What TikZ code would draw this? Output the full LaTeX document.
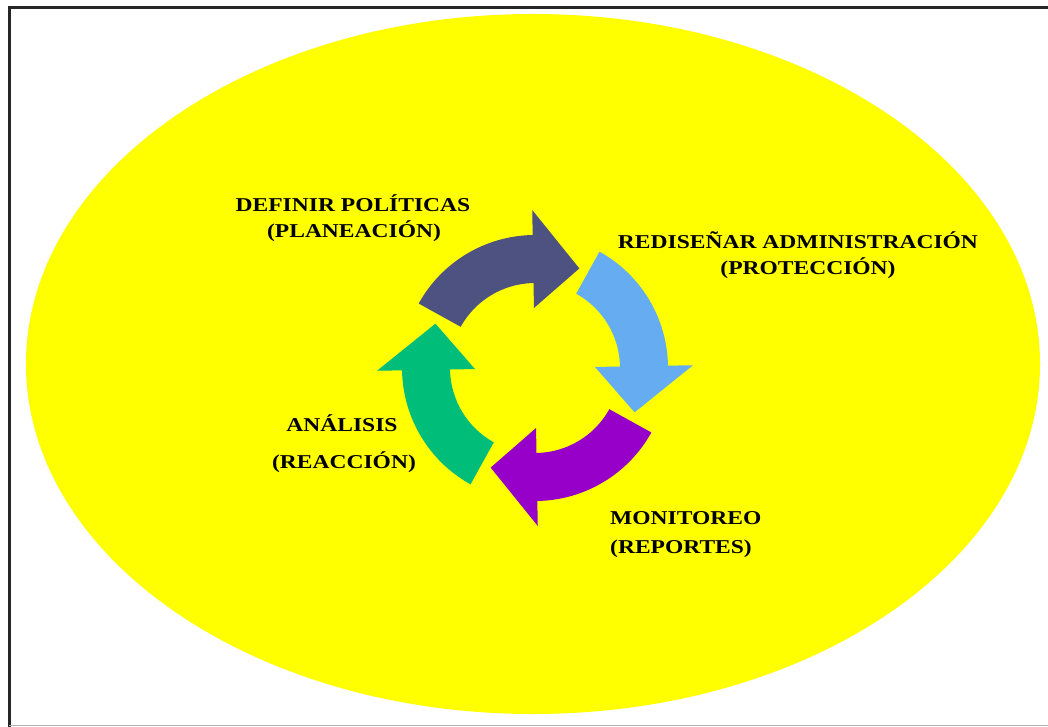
\documentclass[tikz,border=0pt]{standalone}
\usepackage{fontspec}
\usepackage{graphicx}
\setmainfont{Liberation Serif}
\usetikzlibrary{calc}
\definecolor{navyarrow}{RGB}{78,82,128}
\definecolor{bluearrow}{RGB}{102,172,240}
\definecolor{purplearrow}{RGB}{150,0,200}
\definecolor{greenarrow}{RGB}{0,190,122}
\definecolor{bgyellow}{RGB}{255,255,0}
\newcommand\sx[1]{\scalebox{1.2}[1]{#1}}
\newcommand\cyclearrow[2]{%
  \fill[#2] ($(C)+(#1+60:133)$) arc[start angle=#1+60, end angle=#1, radius=133]
    -- ($(C)+(#1:158)$) -- ($(C)+(#1-25:109)$) -- ($(C)+(#1:60)$)
    -- ($(C)+(#1:85)$) arc[start angle=#1, end angle=#1+60, radius=85] -- cycle;}
\tikzset{lbl/.style={font=\fontsize{19.6}{24}\selectfont\bfseries, inner sep=0pt, anchor=base}}
\begin{document}
\begin{tikzpicture}[x=1pt,y=1pt]
\useasboundingbox (0,0) rectangle (1048,-727);
\fill[white] (0,0) rectangle (1048,-727);
\fill[bgyellow] (533,-364) ellipse [x radius=507, y radius=350];
\draw[line width=3pt, black!85] (9,-727) -- (9,-8) -- (1048,-8);
\draw[gray!60, line width=1pt] (9,-725.5) -- (1048,-725.5);
\coordinate (C) at (535,-368);
\cyclearrow{91}{navyarrow}
\cyclearrow{1}{bluearrow}
\cyclearrow{-89}{purplearrow}
\cyclearrow{-179}{greenarrow}
\node[lbl] (def1) at (353,-211.5) {\sx{DEFINIR POLÍTICAS}};
\node[lbl] (def2) at (354,-237.5) {\sx{(PLANEACIÓN)}};
\node[lbl] (red1) at (798,-248.5) {\sx{REDISEÑAR ADMINISTRACIÓN}};
\node[lbl] (red2) at (808,-274.5) {\sx{(PROTECCIÓN)}};
\node[lbl] (ana1) at (342,-431.5) {\sx{ANÁLISIS}};
\node[lbl] (ana2) at (344,-468.5) {\sx{(REACCIÓN)}};
\node[lbl, anchor=base west] (mon1) at (610,-524.5) {\sx{MONITOREO}};
\node[lbl, anchor=base west] (mon2) at (610,-553.5) {\sx{(REPORTES)}};
\end{tikzpicture}
\end{document}
